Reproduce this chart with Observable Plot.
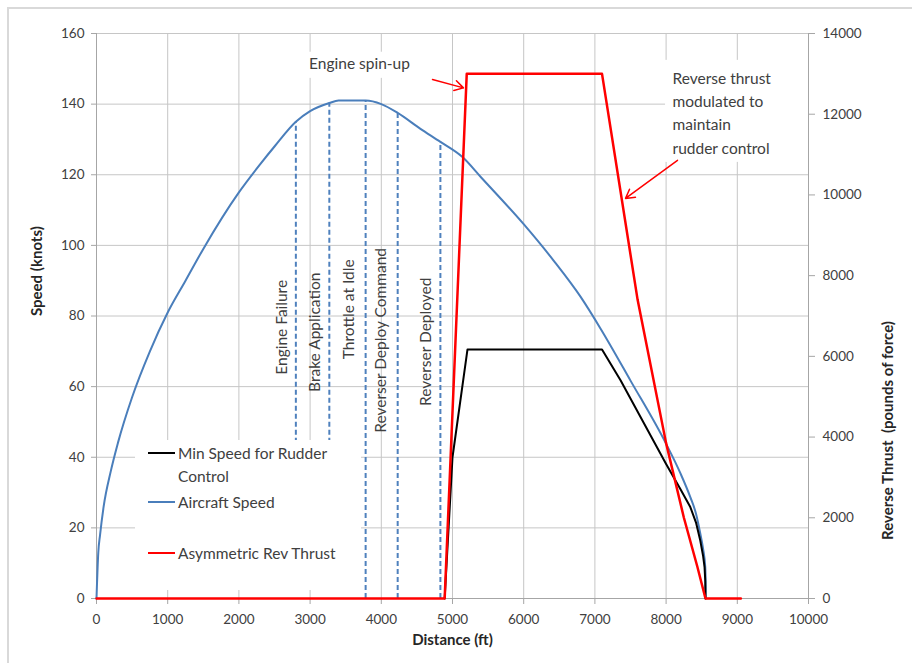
<!DOCTYPE html>
<html>
<head>
<meta charset="utf-8">
<script src="https://cdn.jsdelivr.net/npm/d3@7"></script>
<script src="https://cdn.jsdelivr.net/npm/@observablehq/plot@0.6"></script>
<style>
  html, body { margin: 0; padding: 0; background: #fff; }
  #chart { position: relative; width: 912px; height: 663px; overflow: hidden; font-family: Lato, sans-serif; }
  #frame { position: absolute; left: 7px; top: 7px; right: -10px; bottom: -10px;
           border-top: 2px solid #d9d9d9; border-left: 2px solid #d9d9d9; pointer-events: none; }
  #legend { position: absolute; left: 135px; top: 440px; width: 226px; height: 150px; background: #fff; }
  .sw { position: absolute; left: 13px; width: 27px; height: 0; border-top: 2.5px solid; transform: translateY(-50%); }
  .lt { position: absolute; left: 43px; font-size: 15.5px; color: #404040; line-height: 1; white-space: nowrap; transform: translateY(-50%); }
</style>
</head>
<body>
<div id="chart"></div>
<script>
// Axis ticks
const distanceTicks = [0, 1000, 2000, 3000, 4000, 5000, 6000, 7000, 8000, 9000, 10000];
const speedTicks = [0, 20, 40, 60, 80, 100, 120, 140, 160];
const thrustTicks = [0, 2000, 4000, 6000, 8000, 10000, 12000, 14000];

// Aircraft speed (knots) along the runway distance (ft)
const speedDist = [0, 25, 50, 100, 200, 300, 500, 750, 1000, 1250, 1500, 2000, 2300, 2500, 2800, 3000, 3270, 3400, 3780, 4000, 4230, 4550, 4830, 5140, 5400, 6000, 6420, 6800, 7080, 7500, 8000, 8200, 8340, 8420, 8480, 8520, 8550, 8556, 8557];
const speedKts  = [0, 13, 18, 26, 36, 44, 57, 70, 81, 90, 99, 115, 123, 128, 135, 138, 140.3, 141, 141, 140, 137.5, 133, 129.3, 125, 119.3, 106, 95.7, 85.4, 76.4, 61.7, 43.8, 35.5, 28.7, 24, 18.4, 14, 8.9, 4, 0];

// Minimum speed for rudder control (knots)
const minDist = [4890, 5000, 5210, 7100, 7360, 8000, 8200, 8340, 8420, 8480, 8520, 8540, 8550, 8553];
const minKts  = [0, 40, 70.5, 70.5, 61.8, 38.1, 31, 25.9, 21.5, 16.4, 12, 8.9, 5, 0];

// Asymmetric reverse thrust (pounds of force)
const thrustDist = [0, 4890, 5200, 7100, 7600, 8000, 8250, 8440, 8553, 9050];
const thrustLbs  = [0, 0, 13000, 13000, 7400, 3850, 2000, 780, 0, 0];

// Event markers: distance, speed where the marker meets the curve, marker foot
const eventLabels = ["Engine Failure", "Brake Application", "Throttle at Idle", "Reverser Deploy Command", "Reverser Deployed"];
const eventDist   = [2800, 3270, 3780, 4230, 4830];
const eventTopKts = [135, 140.3, 141, 137.5, 129.3];
const eventFootKts = [44, 44, 0, 0, 0];

const legendLabels = ["Min Speed for Rudder\nControl", "Aircraft Speed", "Asymmetric Rev Thrust"];

// Thrust shares the speed scale: 14000 lbf sits at the top of the 0–160 kt range
const toKts = t => t * 160 / 14000;

const aircraft = speedDist.map((x, i) => ({x, y: speedKts[i]}));
const minSpeed = minDist.map((x, i) => ({x, y: minKts[i]}));
const thrust = thrustDist.map((x, i) => ({x, y: toKts(thrustLbs[i])}));
const events = eventLabels.map((label, i) => ({
  label, x: eventDist[i], top: eventTopKts[i], foot: eventFootKts[i],
  labelY: [76.8, 75.4, 81.9, 73.1, 72.7][i],
  dx: [-14, -14, -17, -17, -14][i]
}));

// Callouts
const notes = [
  {text: "Engine spin-up", x: 3694, y: 151.3, anchor: "middle"},
  {text: "Reverse thrust\nmodulated to\nmaintain\nrudder control", x: 8090, y: 138, anchor: "start"}
];
const noteBoxes = [
  {x1: 2840, x2: 4550, y1: 147.3, y2: 154.7},
  {x1: 7992, x2: 10000, y1: 123.5, y2: 152.4}
];
const arrows = [
  {x1: 4719, y1: 147, x2: 5154, y2: 144.6},
  {x1: 8160, y1: 124.1, x2: 7430, y2: 113.3}
];

const gridColor = "#c6c6c6";
const axisColor = "#a6a6a6";
const textColor = "#404040";

const plot = Plot.plot({
  width: 912,
  height: 663,
  marginTop: 33,
  marginRight: 104,
  marginBottom: 65,
  marginLeft: 96,
  x: {domain: [0, 10000]},
  y: {domain: [0, 160]},
  style: {fontFamily: "Lato, sans-serif", background: "transparent", overflow: "visible"},
  marks: [
    Plot.gridY(speedTicks, {stroke: gridColor, strokeOpacity: 1}),
    Plot.gridX(distanceTicks, {stroke: gridColor, strokeOpacity: 1}),
    Plot.rect(noteBoxes, {x1: "x1", x2: "x2", y1: "y1", y2: "y2", fill: "white"}),
    Plot.ruleX([0, 10000], {stroke: axisColor}),
    Plot.ruleY([0], {stroke: axisColor}),
    Plot.axisY(speedTicks, {anchor: "left", tickSize: 5, tickPadding: 7, label: null,
      fontSize: 13.5, fill: textColor, stroke: axisColor}),
    Plot.axisY(thrustTicks.map(toKts), {anchor: "right", tickSize: 6, tickPadding: 8, label: null,
      tickFormat: d => String(Math.round(d * 14000 / 160)),
      fontSize: 13.5, fill: textColor, stroke: axisColor}),
    Plot.axisX(distanceTicks, {tickSize: 6, tickPadding: 10, label: null,
      tickFormat: d => String(d),
      fontSize: 13.5, fill: textColor, stroke: axisColor}),
    Plot.text(["Speed (knots)"], {frameAnchor: "left", dx: -59, rotate: -90,
      fontWeight: "bold", fontSize: 15, fill: "#262626"}),
    Plot.text(["Reverse Thrust  (pounds of force)"], {frameAnchor: "right", dx: 80, dy: 5, rotate: -90,
      fontWeight: "bold", fontSize: 15, fill: "#262626"}),
    Plot.text(["Distance (ft)"], {frameAnchor: "bottom", dy: 46,
      fontWeight: "bold", fontSize: 15, fill: "#262626"}),
    Plot.ruleX(events, {x: "x", y1: "foot", y2: "top", stroke: "#4f81bd",
      strokeWidth: 2, strokeDasharray: "5,3"}),
    Plot.text(events, {x: "x", y: "labelY", text: "label", rotate: -90,
      fontSize: 15.5, fill: textColor}),
    Plot.line(aircraft, {x: "x", y: "y", stroke: "#4a7ebb", strokeWidth: 2, curve: "monotone-x"}),
    Plot.line(minSpeed, {x: "x", y: "y", stroke: "#000000", strokeWidth: 2}),
    Plot.line(thrust, {x: "x", y: "y", stroke: "#ff0000", strokeWidth: 2.5}),
    Plot.text(notes, {x: "x", y: "y", text: "text", textAnchor: "start",
      filter: d => d.anchor === "start", lineHeight: 1.5, fontSize: 15.5, fill: textColor}),
    Plot.text(notes, {x: "x", y: "y", text: "text",
      filter: d => d.anchor === "middle", fontSize: 15.5, fill: textColor}),
    Plot.arrow(arrows, {x1: "x1", y1: "y1", x2: "x2", y2: "y2", bend: 0,
      stroke: "#ff0000", strokeWidth: 1.5, headLength: 10})
  ]
});

// Shift each event label to the left of its marker
d3.select(plot).selectAll("text").filter(function () {
  return eventLabels.includes(this.textContent);
}).each(function () {
  const ev = events.find(e => e.label === this.textContent);
  const t = this.getAttribute("transform") || "";
  this.setAttribute("transform", `translate(${ev.dx},0) ` + t);
});

const root = document.getElementById("chart");
root.appendChild(plot);

// Frame around the chart area
const frame = document.createElement("div");
frame.id = "frame";
root.appendChild(frame);

// Legend panel
const legend = document.createElement("div");
legend.id = "legend";
const legendColors = ["#000000", "#4a7ebb", "#ff0000"];
const swatchY = [13, 62, 113];
legendLabels.forEach((label, i) => {
  const sw = document.createElement("div");
  sw.className = "sw";
  sw.style.top = swatchY[i] + "px";
  sw.style.borderTopColor = legendColors[i];
  legend.appendChild(sw);
  label.split("\n").forEach((line, j) => {
    const t = document.createElement("div");
    t.className = "lt";
    t.style.top = (swatchY[i] + 1 + j * 23) + "px";
    t.textContent = line;
    legend.appendChild(t);
  });
});
root.appendChild(legend);
</script>
</body>
</html>
